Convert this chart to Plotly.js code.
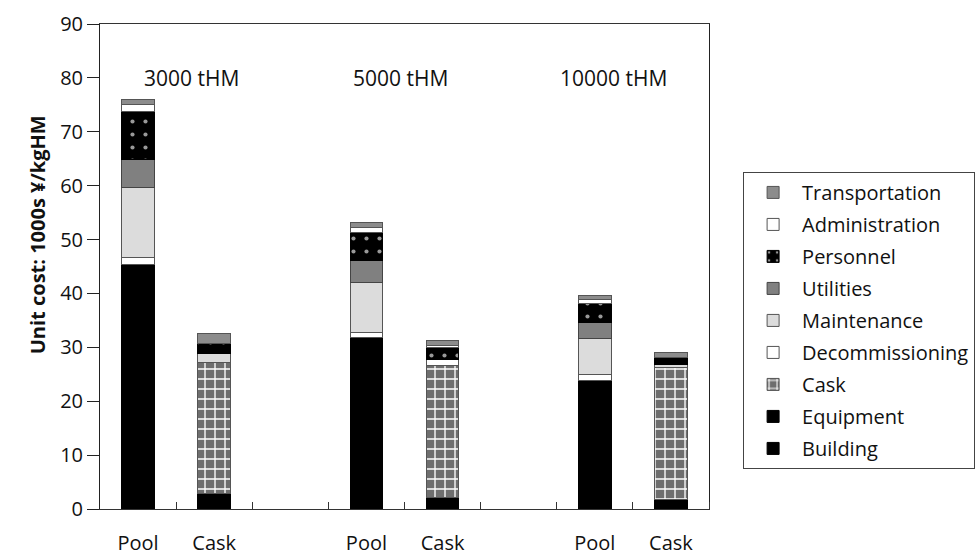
<!DOCTYPE html>
<html>
<head>
<meta charset="utf-8">
<script src="https://cdn.plot.ly/plotly-3.0.1.min.js"></script>
<style>html,body{margin:0;padding:0;background:#fff;}#chart{width:976px;height:555px;}</style>
</head>
<body>
<div id="chart"></div>
<script>
// ---- data ----
const groups = ['3000 tHM', '5000 tHM', '10000 tHM'];
const groupLabelPos = [0.7, 3.45, 6.24];
const storageTypes = ['Pool', 'Cask'];
// values ordered: [3000 Pool, 3000 Cask, 5000 Pool, 5000 Cask, 10000 Pool, 10000 Cask]
const building        = [30.0, 2.9, 21.0, 2.2, 16.0, 1.7];
const equipment       = [15.3, 0.0, 10.9, 0.0, 7.9, 0.0];
const cask            = [0.0, 24.2, 0.0, 24.5, 0.0, 24.5];
const decommissioning = [1.4, 0.0, 0.9, 1.1, 1.0, 0.0];
const maintenance     = [12.9, 1.8, 9.3, 0.0, 6.8, 0.6];
const utilities       = [5.3, 0.0, 4.1, 0.0, 3.0, 0.0];
const personnel       = [8.8, 1.9, 5.2, 2.1, 3.5, 1.4];
const administration  = [1.4, 0.0, 0.9, 0.5, 0.6, 0.0];
const transportation  = [0.8, 1.8, 0.9, 0.9, 0.9, 0.9];
const seriesNames = ['Building','Equipment','Cask','Decommissioning','Maintenance','Utilities','Personnel','Administration','Transportation'];
const yTicks = [0,10,20,30,40,50,60,70,80,90];
const yTitle = 'Unit cost: 1000s ¥/kgHM';

// ---- positions derived from categories ----
const xs = [], xText = [];
groups.forEach((g, gi) => storageTypes.forEach((s, si) => { xs.push(gi * 3 + si); xText.push(s); }));
const boundaries = [];
for (let i = 0; i < groups.length * 3 - 1; i++) boundaries.push(i + 0.5);

const values = [building, equipment, cask, decommissioning, maintenance, utilities, personnel, administration, transportation];
const styles = {
  Building:        {color:'#000000', line:'#000000'},
  Equipment:       {color:'#000000', line:'#000000'},
  Cask:            {color:'#6e6e6e', line:'#555555', pattern:{shape:'+', fgcolor:'#ffffff', bgcolor:'#6e6e6e', size:10, solidity:0.25}},
  Decommissioning: {color:'#ffffff', line:'#555555'},
  Maintenance:     {color:'#dcdcdc', line:'#555555'},
  Utilities:       {color:'#808080', line:'#444444'},
  Personnel:       {color:'#000000', line:'#000000', pattern:{shape:'.', fgcolor:'#999999', bgcolor:'#000000', size:13, solidity:0.08}},
  Administration:  {color:'#ffffff', line:'#555555'},
  Transportation:  {color:'#8c8c8c', line:'#555555'}
};

const traces = seriesNames.map((name, i) => {
  const st = styles[name];
  const marker = {color: st.color, line: {color: st.line, width: 1}};
  if (st.pattern) marker.pattern = st.pattern;
  return {type:'bar', name: name, x: xs, y: values[i], width: 0.43, marker: marker,
          legendgroup: name, legendrank: 1000 - i, hoverinfo: 'name+y'};
});

const annotations = groups.map((g, gi) => ({
  x: groupLabelPos[gi], y: 80, xref:'x', yref:'y', text: g, showarrow:false,
  font:{family:'Open Sans', size:21, color:'#111'}
}));
annotations.push({
  x: -0.128, y: 0.315, xref:'paper', yref:'paper', text: yTitle, showarrow:false, textangle:-90,
  font:{family:'Open Sans', size:20, color:'#111', weight:'bold'}
});

const layout = {
  width: 976, height: 555,
  margin: {l:100, r:267, t:24, b:46, autoexpand:false},
  barmode: 'stack',
  paper_bgcolor:'#ffffff', plot_bgcolor:'#ffffff',
  font: {family:'Open Sans', color:'#111'},
  showlegend: true,
  legend: {
    x: 1.056, xanchor:'left', y: 0.695, yanchor:'top',
    traceorder:'grouped', tracegroupgap: 3,
    bordercolor:'#444', borderwidth:1,
    font:{family:'Open Sans', size:20, color:'#111'},
    itemwidth: 48
  },
  xaxis: {
    range: [-0.5, groups.length * 3 - 1 - 0.5],
    tickmode:'array', tickvals: xs, ticktext: xText,
    ticks:'', ticklabelstandoff: 16,
    tickfont:{family:'Open Sans', size:20, color:'#111'},
    showline:true, linecolor:'#333', linewidth:1, mirror:true,
    showgrid:false, zeroline:false, fixedrange:true,
    minor: {tickmode:'array', tickvals: boundaries, ticks:'inside', ticklen:7, tickcolor:'#333', tickwidth:1, showgrid:false}
  },
  yaxis: {
    range:[0, 90], tickmode:'array', tickvals: yTicks,
    ticks:'outside', ticklen:12, tickcolor:'#222', tickwidth:1,
    tickfont:{family:'Open Sans', size:20, color:'#111'},
    showline:true, linecolor:'#222', linewidth:1, mirror:true,
    showgrid:false, zeroline:false
  },
  annotations: annotations
};

Plotly.newPlot('chart', traces, layout, {displayModeBar:false, staticPlot:true});
</script>
</body>
</html>
